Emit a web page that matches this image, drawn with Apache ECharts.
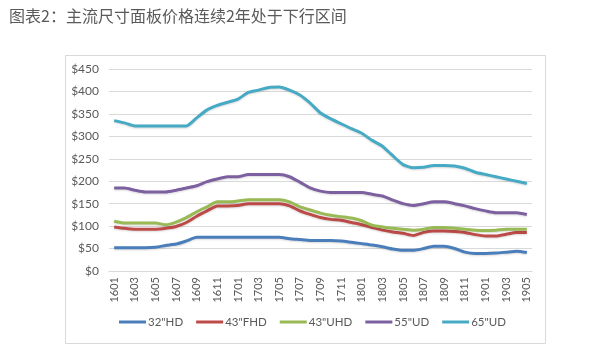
<!DOCTYPE html>
<html>
<head>
<meta charset="utf-8">
<script src="https://cdn.jsdelivr.net/npm/echarts@6/dist/echarts.min.js"></script>
<style>
  html, body {margin: 0; padding: 0; background: #fff;}
  #main {width: 590px; height: 353px;}
</style>
</head>
<body>
<div id="main"></div>
<script>
// 月份 1601 ~ 1905
const months = [
  '1601', '1602', '1603', '1604', '1605', '1606', '1607', '1608', '1609', '1610', '1611', '1612',
  '1701', '1702', '1703', '1704', '1705', '1706', '1707', '1708', '1709', '1710', '1711', '1712',
  '1801', '1802', '1803', '1804', '1805', '1806', '1807', '1808', '1809', '1810', '1811', '1812',
  '1901', '1902', '1903', '1904', '1905'
];
const seriesNames = ['32"HD', '43"FHD', '43"UHD', '55"UD', '65"UD'];
const hd32 = [52, 52, 52, 52, 53, 57, 60, 67, 75, 75, 75, 75,
  75, 75, 75, 75, 75, 72, 70, 68, 68, 68, 67, 64,
  61, 58, 54, 49, 46, 46, 50, 55, 55, 50, 42, 39,
  39, 40, 42, 44, 41];
const fhd43 = [98, 95, 93, 93, 93, 95, 99, 108, 122, 134, 145, 145,
  146, 150, 150, 150, 150, 145, 134, 126, 119, 115, 113, 108,
  103, 97, 91, 87, 84, 79, 86, 89, 89, 88, 86, 81,
  78, 78, 82, 86, 86];
const uhd43 = [111, 107, 107, 107, 107, 103, 109, 119, 132, 143, 154, 154,
  156, 159, 159, 159, 159, 154, 143, 136, 129, 124, 121, 118,
  112, 102, 98, 95, 93, 91, 93, 97, 97, 95, 93, 91,
  90, 91, 93, 93, 93];
const ud55 = [185, 185, 180, 176, 176, 176, 180, 185, 190, 199, 205, 210,
  210, 215, 215, 215, 215, 210, 198, 185, 178, 175, 175, 175,
  175, 171, 167, 158, 150, 146, 150, 154, 154, 150, 145, 139,
  134, 130, 130, 130, 126];
const ud65 = [335, 330, 323, 323, 323, 323, 323, 323, 341, 359, 369, 376,
  383, 398, 403, 409, 410, 403, 392, 374, 352, 339, 328, 317,
  307, 291, 278, 257, 237, 230, 231, 235, 235, 234, 229, 220,
  215, 210, 205, 200, 195];
const yTicks = ['$0', '$50', '$100', '$150', '$200', '$250', '$300', '$350', '$400', '$450'];

const colors = ['#4a7ebb', '#be4b48', '#98b954', '#7d60a0', '#46aac5'];

const myChart = echarts.init(document.getElementById('main'));

const allData = [hd32, fhd43, uhd43, ud55, ud65];
const series = seriesNames.map(function (name, idx) {
  return {
    name: name,
    type: 'line',
    data: allData[idx],
    symbol: 'none',
    smooth: 0.2,
    lineStyle: {
      width: 3,
      color: colors[idx],
      shadowColor: 'rgba(0,0,0,0.15)',
      shadowBlur: 2,
      shadowOffsetY: 1
    },
    itemStyle: {color: colors[idx]}
  };
});

myChart.setOption({
  animation: false,
  textStyle: {fontFamily: 'Lato, "Noto Sans", sans-serif'},
  title: {
    text: '图表2：主流尺寸面板价格连续2年处于下行区间',
    left: 4,
    top: 3,
    textStyle: {
      fontSize: 16,
      fontWeight: 'normal',
      color: '#5a5a5a',
      fontFamily: '"Noto Sans CJK SC", sans-serif'
    }
  },
  graphic: [{   // 外框
    type: 'rect',
    shape: {x: 65.5, y: 55.5, width: 480, height: 288},
    style: {fill: 'none', stroke: '#d9d9d9', lineWidth: 1},
    silent: true
  }],
  legend: {
    top: 316,
    left: 119,
    padding: 0,
    itemWidth: 27,
    itemHeight: 3,
    itemGap: 13,
    icon: 'rect',
    selectedMode: false,
    textStyle: {color: '#595959', fontSize: 11.5, padding: [0, 0, 0, -3]},
    data: seriesNames
  },
  grid: {
    left: 109,
    right: 58,
    top: 69,
    bottom: 82
  },
  xAxis: {
    type: 'category',
    data: months,
    boundaryGap: true,
    axisTick: {show: false},
    axisLine: {lineStyle: {color: '#d9d9d9'}},
    axisLabel: {
      interval: 1,
      rotate: 90,
      color: '#595959',
      fontSize: 11,
      margin: 6
    }
  },
  yAxis: {
    type: 'value',
    min: 0,
    max: 450,
    interval: 50,
    axisLine: {show: false},
    axisTick: {show: false},
    axisLabel: {
      color: '#595959',
      fontSize: 12,
      margin: 10,
      formatter: function (v) { return yTicks[v / 50]; }
    },
    splitLine: {lineStyle: {color: '#d9d9d9', width: 1}}
  },
  series: series
});
</script>
</body>
</html>
